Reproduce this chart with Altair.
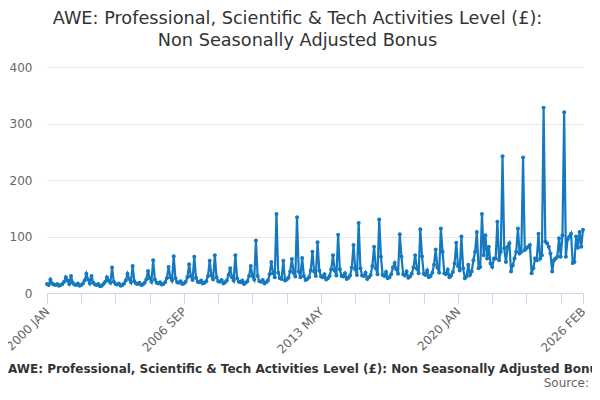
import altair as alt
import pandas as pd

# Monthly values (Jan..Dec)
y2000 = [16, 14, 24, 17, 15, 14, 16, 13, 14, 16, 20, 28]
y2001 = [22, 16, 30, 18, 15, 14, 17, 13, 14, 17, 22, 34]
y2002 = [24, 17, 30, 18, 15, 14, 16, 12, 13, 16, 20, 28]
y2003 = [22, 18, 45, 20, 16, 15, 17, 13, 14, 17, 22, 34]
y2004 = [25, 19, 48, 21, 17, 16, 18, 14, 15, 18, 24, 39]
y2005 = [26, 20, 58, 24, 18, 17, 19, 15, 16, 19, 26, 46]
y2006 = [28, 22, 65, 26, 19, 18, 21, 16, 17, 20, 28, 51]
y2007 = [30, 23, 64, 27, 20, 19, 22, 17, 18, 21, 30, 57]
y2008 = [31, 24, 67, 28, 21, 20, 23, 17, 19, 22, 32, 44]
y2009 = [28, 22, 67, 26, 20, 19, 22, 16, 18, 21, 30, 48]
y2010 = [30, 24, 93, 30, 21, 20, 23, 17, 19, 22, 33, 55]
y2011 = [35, 28, 140, 36, 26, 25, 57, 22, 24, 27, 38, 60]
y2012 = [36, 29, 134, 38, 28, 62, 30, 23, 25, 28, 40, 73]
y2013 = [38, 30, 90, 40, 29, 28, 33, 24, 26, 30, 42, 67]
y2014 = [40, 31, 103, 42, 30, 29, 35, 25, 27, 31, 45, 85]
y2015 = [42, 32, 124, 44, 31, 30, 36, 25, 28, 32, 48, 82]
y2016 = [44, 33, 130, 64, 32, 30, 37, 26, 28, 33, 45, 53]
y2017 = [42, 34, 104, 64, 33, 31, 38, 27, 29, 34, 45, 67]
y2018 = [43, 35, 113, 65, 34, 32, 40, 28, 30, 36, 50, 77]
y2019 = [45, 36, 114, 73, 35, 33, 41, 28, 31, 37, 52, 89]
y2020 = [48, 40, 100, 44, 26, 29, 50, 32, 38, 58, 73, 108]
y2021 = [44, 46, 140, 67, 102, 61, 82, 52, 46, 61, 61, 126]
y2022 = [58, 73, 242, 79, 55, 82, 88, 38, 49, 61, 73, 114]
y2023 = [70, 73, 240, 76, 79, 82, 85, 35, 44, 61, 58, 105]
y2024 = [61, 67, 328, 91, 88, 82, 70, 38, 58, 61, 64, 97]
y2025 = [64, 102, 320, 64, 95, 100, 105, 53, 55, 100, 80, 108]
y2026 = [82, 112]

years = [y2000, y2001, y2002, y2003, y2004, y2005, y2006, y2007, y2008,
         y2009, y2010, y2011, y2012, y2013, y2014, y2015, y2016, y2017,
         y2018, y2019, y2020, y2021, y2022, y2023, y2024, y2025, y2026]

month_names = ["JAN", "FEB", "MAR", "APR", "MAY", "JUN",
               "JUL", "AUG", "SEP", "OCT", "NOV", "DEC"]

tick_positions = [0, 20, 40, 60, 80, 100, 120, 140, 160, 180, 200, 220,
                  240, 260, 280, 300, 313]
label_positions = [0, 80, 160, 240, 313]

title_lines = ["AWE: Professional, Scientific & Tech Activities Level (£):",
               "Non Seasonally Adjusted Bonus"]
caption = "AWE: Professional, Scientific & Tech Activities Level (£): Non Seasonally Adjusted Bonus"
source = "Source:"

rows = []
i = 0
for yi, vals in enumerate(years):
    for mi, v in enumerate(vals):
        rows.append({"idx": i, "value": v,
                     "label": f"{2000 + yi} {month_names[mi]}"})
        i += 1
df = pd.DataFrame(rows)

label_map = {p: df.loc[df.idx == p, "label"].iloc[0] for p in label_positions}
expr = " : ".join(f"datum.value == {p} ? '{lab}'" for p, lab in label_map.items()) + " : ''"

W, H = 536, 226
LINE = "#1479bf"
FONT = "DejaVu Sans"

x = alt.X("idx:Q",
          scale=alt.Scale(domain=[0, 313], nice=False, zero=False),
          axis=alt.Axis(values=tick_positions, labelExpr=expr, title=None,
                        grid=False, labelAngle=-45, labelAlign="right",
                        labelBaseline="middle", labelPadding=6,
                        tickSize=10, tickColor="#ccd6eb", domainColor="#ccd6eb",
                        labelColor="#666666", labelFont=FONT, labelFontSize=12,
                        labelOverlap=False, labelBound=False, labelFlush=False))
y = alt.Y("value:Q",
          scale=alt.Scale(domain=[0, 400], nice=False),
          axis=alt.Axis(values=[0, 100, 200, 300, 400], title=None,
                        domain=False, ticks=False, gridColor="#e6e6e6",
                        labelColor="#666666", labelFont=FONT, labelFontSize=12,
                        labelPadding=15))

line = alt.Chart(df).mark_line(
    color=LINE, strokeWidth=2.2,
    point=alt.OverlayMarkDef(color=LINE, size=16, filled=True)
).encode(x=x, y=y)

texts = pd.DataFrame({
    "t": [title_lines[0], title_lines[1], caption, source],
    "px": [250.5, 250.5, -39, 542],
    "py": [-43, -21, 306, 320],
    "kind": ["title", "title", "caption", "source"],
})

title_layer = alt.Chart(texts[texts.kind == "title"]).mark_text(
    font=FONT, fontSize=17.7, color="#333333", align="center", baseline="alphabetic"
).encode(x=alt.X("px:Q", scale=None), y=alt.Y("py:Q", scale=None), text="t:N")

caption_layer = alt.Chart(texts[texts.kind == "caption"]).mark_text(
    font=FONT, fontSize=12, fontWeight="bold", color="#333333", align="left",
    baseline="alphabetic"
).encode(x=alt.X("px:Q", scale=None), y=alt.Y("py:Q", scale=None), text="t:N")

source_layer = alt.Chart(texts[texts.kind == "source"]).mark_text(
    font=FONT, fontSize=12, color="#666666", align="right", baseline="alphabetic"
).encode(x=alt.X("px:Q", scale=None), y=alt.Y("py:Q", scale=None), text="t:N")

chart = alt.layer(line, title_layer, caption_layer, source_layer).properties(
    width=W, height=H,
    autosize=alt.AutoSizeParams(type="none"),
    padding={"left": 39, "top": 59, "right": 9, "bottom": 97},
).configure_view(stroke=None)

chart.save("out.html", embed_options={"renderer": "svg", "actions": False})
